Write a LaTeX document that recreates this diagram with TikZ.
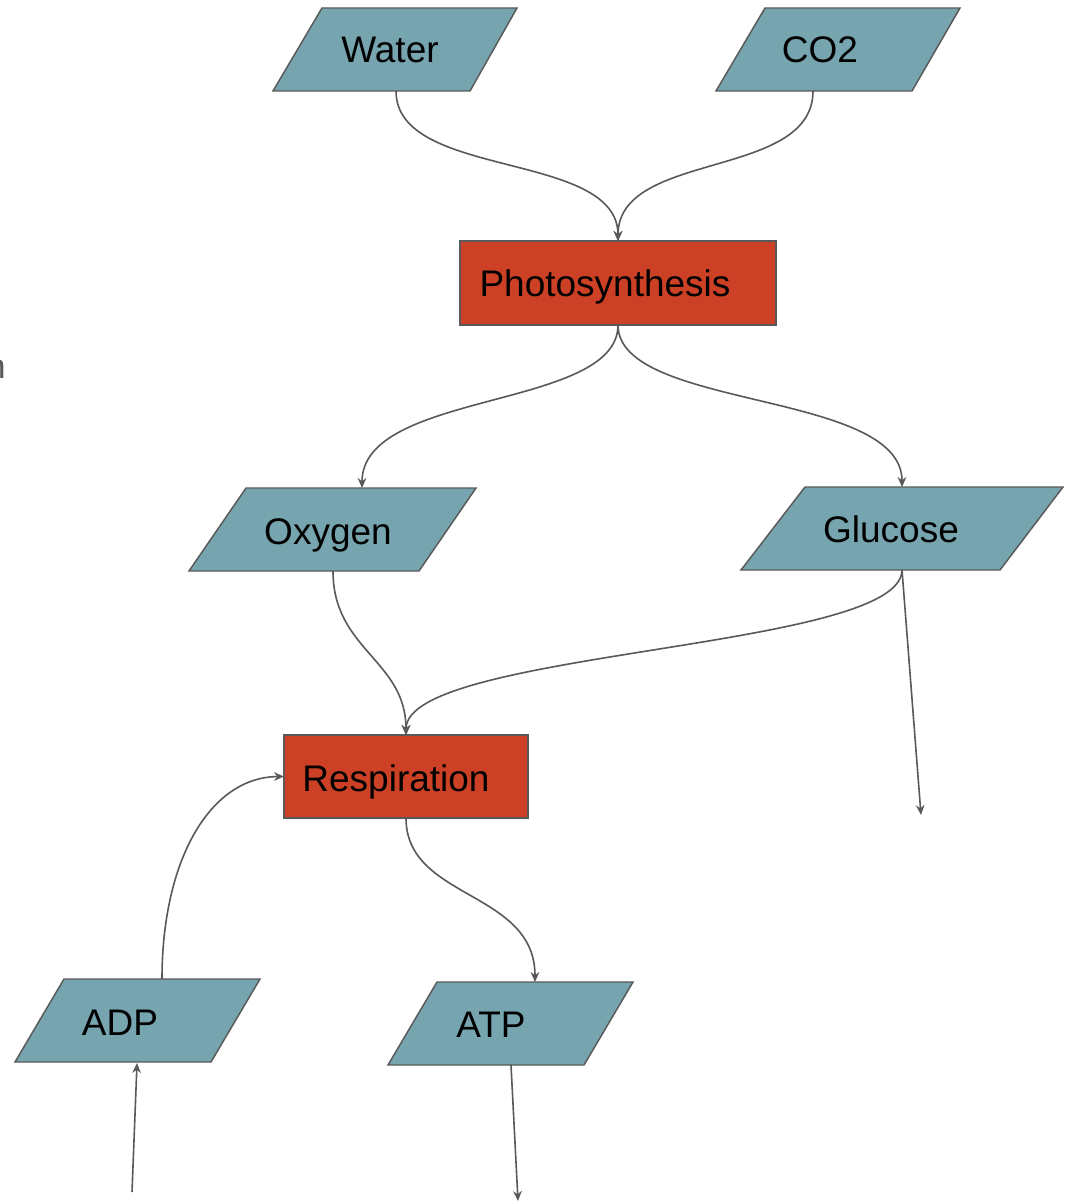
\documentclass[tikz,border=0pt]{standalone}
\usepackage{fontspec}
\setmainfont{Liberation Sans}
\usetikzlibrary{arrows.meta}
\definecolor{paraFill}{HTML}{76A5AF}
\definecolor{procFill}{HTML}{CC4125}
\definecolor{lineGray}{HTML}{595959}
\begin{document}
\begin{tikzpicture}[x=0.75pt,y=-0.75pt,
  para/.style={draw=lineGray,fill=paraFill,line width=1.1pt,line join=miter},
  proc/.style={draw=lineGray,fill=procFill,line width=1.1pt,inner sep=0pt,outer sep=0pt},
  lbl/.style={font=\fontsize{27.75}{33}\selectfont,inner sep=0pt,text=black},
  conn/.style={draw=lineGray,line width=1.2pt,-{Stealth[length=7.5pt,width=6.5pt]}}]
\clip (0,0) rectangle (1064,1202);
\fill[white] (0,0) rectangle (1064,1202);
% partial text at left edge
\node[font=\fontsize{26}{31}\selectfont,text=lineGray,inner sep=0pt,anchor=base east] (edgetext) at (6,378) {n};
% inputs
\draw[para] (322,8) -- (517,8) -- (470,91) -- (273,91) -- cycle;
\node[lbl,anchor=base] (water) at (390,63) {Water};
\coordinate (water-s) at (396,91);
\draw[para] (765,8) -- (960,8) -- (912,91) -- (716,91) -- cycle;
\node[lbl,anchor=base] (co2) at (820,63) {CO2};
\coordinate (co2-s) at (813,91);
% photosynthesis
\node[proc,minimum width=237pt,minimum height=63pt] (photo) at (618,283) {};
\node[lbl,anchor=base] (photoText) at (605,296) {Photosynthesis};
% oxygen
\draw[para] (246,488) -- (476,488) -- (419,571) -- (189,571) -- cycle;
\node[lbl,anchor=base] (oxygen) at (328,544) {Oxygen};
\coordinate (oxygen-n) at (362,488);
\coordinate (oxygen-s) at (333,571);
% glucose
\draw[para] (805,487) -- (1063,487) -- (1000,570) -- (741,570) -- cycle;
\node[lbl,anchor=base] (glucose) at (891,542) {Glucose};
\coordinate (glucose-n) at (902,487);
\coordinate (glucose-s) at (902,570);
\coordinate (glucose-out) at (921,815);
% respiration
\node[proc,minimum width=183pt,minimum height=62.25pt] (resp) at (406,776.5) {};
\node[lbl,anchor=base] (respText) at (396,791) {Respiration};
% ADP
\draw[para] (64,979) -- (260,979) -- (211,1062) -- (15,1062) -- cycle;
\node[lbl,anchor=base] (adp) at (120,1035) {ADP};
\coordinate (adp-n) at (162,979);
\coordinate (adp-s) at (137,1063);
\coordinate (adp-in) at (132,1192);
% ATP
\draw[para] (437,982) -- (633,982) -- (584,1065) -- (388,1065) -- cycle;
\node[lbl,anchor=base] (atp) at (491,1037) {ATP};
\coordinate (atp-n) at (535,982);
\coordinate (atp-s) at (511,1065);
\coordinate (atp-out) at (518,1201);
% connectors
\draw[conn] (water-s) .. controls (396,180) and (618,150) .. (photo.north);
\draw[conn] (co2-s) .. controls (813,180) and (618,150) .. (photo.north);
\draw[conn] (photo.south) .. controls (618,410) and (362,390) .. (oxygen-n);
\draw[conn] (photo.south) .. controls (618,410) and (902,390) .. (glucose-n);
\draw[conn] (oxygen-s) .. controls (333,650) and (406,660) .. (resp.north);
\draw[conn] (glucose-s) .. controls (902,650) and (406,650) .. (resp.north);
\draw[conn] (glucose-s) -- (glucose-out);
\draw[conn] (adp-n) .. controls (162,860) and (210,777) .. (resp.west);
\draw[conn] (resp.south) .. controls (406,900) and (535,890) .. (atp-n);
\draw[conn] (adp-in) -- (adp-s);
\draw[conn] (atp-s) -- (atp-out);
\end{tikzpicture}
\end{document}
